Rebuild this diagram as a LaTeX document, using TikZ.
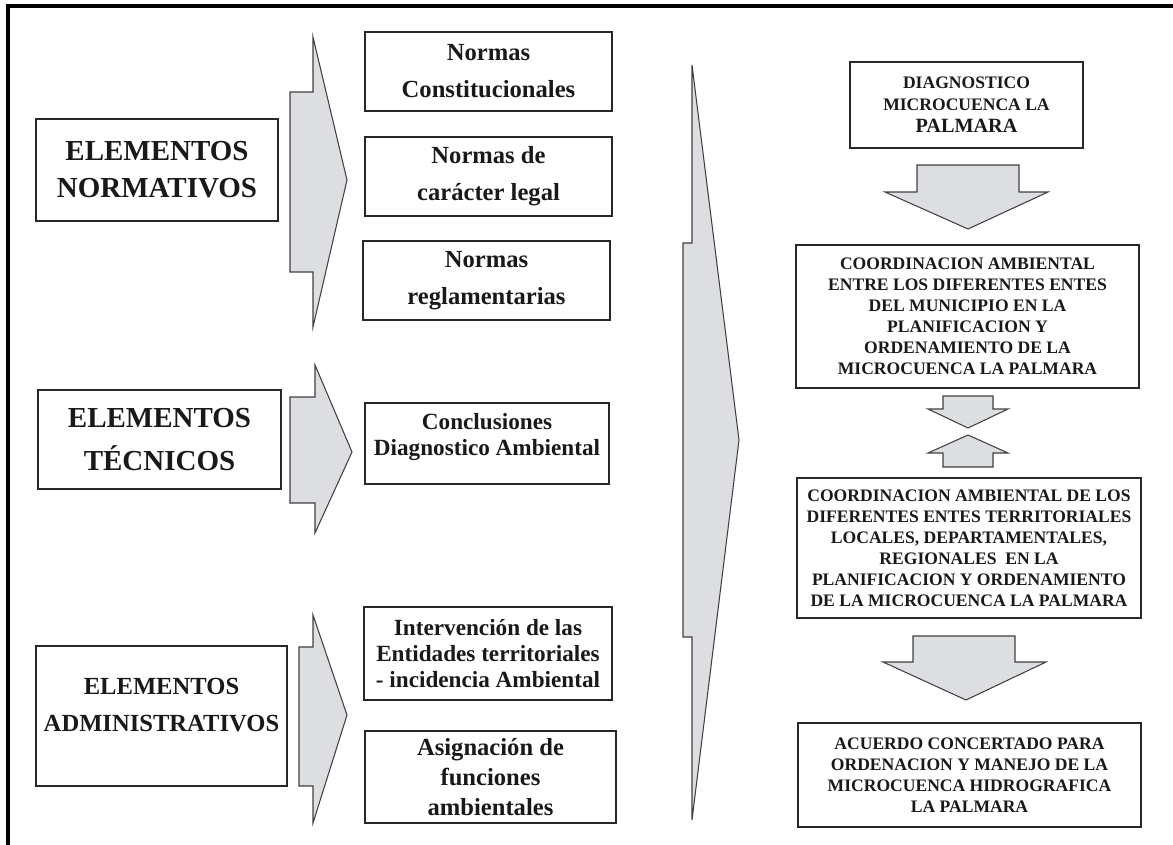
\documentclass[tikz,border=0pt]{standalone}
\usepackage{fontspec}
\setmainfont{Liberation Serif}
\definecolor{relleno}{RGB}{220,222,226}
\definecolor{borde}{RGB}{40,40,40}

\begin{document}
\begin{tikzpicture}[x=0.02cm,y=-0.02cm,line width=0.75pt,
  caja/.style={draw=borde,inner sep=0pt,align=center,text=black!90},
  titulo/.style={caja,font=\bfseries\fontsize{16.5}{21}\selectfont},
  norma/.style={caja,font=\bfseries\fontsize{14}{21}\selectfont},
  etapa/.style={caja,font=\bfseries\fontsize{10}{12}\selectfont},
  flecha/.style={draw=black!75,fill=relleno,line width=0.6pt}]
  \useasboundingbox (0,0) rectangle (1173,845);

  % marco exterior
  \coordinate (M0) at (8,845);
  \coordinate (M1) at (8,6);
  \coordinate (M2) at (1173,6);
  \draw[line width=1.8pt] (M0) -- (M1) -- (M2);

  % elementos de la izquierda
  \node[titulo,minimum width=4.84cm,minimum height=2.04cm] (normativos) at (157,170) {ELEMENTOS\\NORMATIVOS};
  \node[titulo,font=\bfseries\fontsize{16.5}{24}\selectfont,minimum width=4.86cm,minimum height=1.98cm] (tecnicos) at (159.5,439.5) {ELEMENTOS\\TÉCNICOS};
  \node[caja,minimum width=5.02cm,minimum height=2.8cm] (administrativos) at (161.5,716) {};
  \node[font=\bfseries\fontsize{14}{21}\selectfont,align=center,inner sep=0pt,text=black!90] (admintxt) at (161.5,705) {ELEMENTOS\\ADMINISTRATIVOS};

  % flechas hacia las normas
  \draw[flecha] (290,92) -- (313,92) -- (313,37) -- (347,180) -- (313,327) -- (313,272) -- (290,272) -- cycle;
  \draw[flecha] (290,397) -- (315,397) -- (315,365) -- (352,452) -- (315,533) -- (315,503) -- (290,503) -- cycle;
  \draw[flecha] (299,647) -- (313,647) -- (313,615) -- (347,715) -- (313,823) -- (313,786) -- (299,786) -- cycle;

  % cajas del centro
  \node[norma,minimum width=4.94cm,minimum height=1.58cm] (constitucionales) at (488.5,71.5) {Normas\\Constitucionales};
  \node[norma,minimum width=4.94cm,minimum height=1.58cm] (legal) at (488.5,176.5) {Normas de\\carácter legal};
  \node[norma,minimum width=4.94cm,minimum height=1.58cm] (reglamentarias) at (486.5,280.5) {Normas\\reglamentarias};
  \node[caja,minimum width=4.88cm,minimum height=1.62cm] (conclusiones) at (487,443.5) {};
  \node[font=\bfseries\fontsize{13.2}{15}\selectfont,align=center,inner sep=0pt,text=black!90] (concltxt) at (487,437) {Conclusiones\\Diagnostico Ambiental};
  \node[caja,font=\bfseries\fontsize{13.2}{14.8}\selectfont,minimum width=4.96cm,minimum height=1.86cm] (intervencion) at (488,653.5) {Intervención de las\\Entidades territoriales\\- incidencia Ambiental};
  \node[caja,font=\bfseries\fontsize{14}{17}\selectfont,minimum width=5.02cm,minimum height=1.84cm] (asignacion) at (490.5,777) {Asignación de\\funciones\\ambientales};

  % flecha grande
  \draw[flecha] (683,243) -- (692,243) -- (692,65) -- (739,440) -- (692,820) -- (692,637) -- (683,637) -- cycle;

  % columna derecha
  \node[etapa,font=\bfseries\fontsize{10}{12.5}\selectfont,minimum width=4.66cm,minimum height=1.72cm] (diagnostico) at (966.5,105) {DIAGNOSTICO\\MICROCUENCA LA\\{\fontsize{11.5}{13}\selectfont PALMARA}};
  \node[etapa,minimum width=6.86cm,minimum height=2.86cm] (municipio) at (967.5,316.5) {COORDINACION AMBIENTAL\\ENTRE LOS DIFERENTES ENTES\\DEL MUNICIPIO EN LA\\PLANIFICACION Y\\ORDENAMIENTO DE LA\\MICROCUENCA LA PALMARA};
  \node[etapa,minimum width=6.88cm,minimum height=2.8cm] (territoriales) at (969,548) {COORDINACION AMBIENTAL DE LOS\\DIFERENTES ENTES TERRITORIALES\\LOCALES, DEPARTAMENTALES,\\REGIONALES\ \ EN LA\\PLANIFICACION Y ORDENAMIENTO\\DE LA MICROCUENCA LA PALMARA};
  \node[etapa,minimum width=6.86cm,minimum height=2.08cm] (acuerdo) at (969.5,775) {ACUERDO CONCERTADO PARA\\ORDENACION Y MANEJO DE LA\\MICROCUENCA HIDROGRAFICA\\LA PALMARA};

  % flechas verticales
  \draw[flecha] (917,165) -- (1019,165) -- (1019,192) -- (1048,192) -- (968,229) -- (885,192) -- (917,192) -- cycle;
  \draw[flecha] (943,396) -- (993,396) -- (993,409) -- (1008,409) -- (968,428) -- (928,409) -- (943,409) -- cycle;
  \draw[flecha] (943,467) -- (993,467) -- (993,453) -- (1008,453) -- (968,435) -- (928,453) -- (943,453) -- cycle;
  \draw[flecha] (913,636) -- (1015,636) -- (1015,662) -- (1046,662) -- (966,700) -- (883,662) -- (913,662) -- cycle;
\end{tikzpicture}
\end{document}
